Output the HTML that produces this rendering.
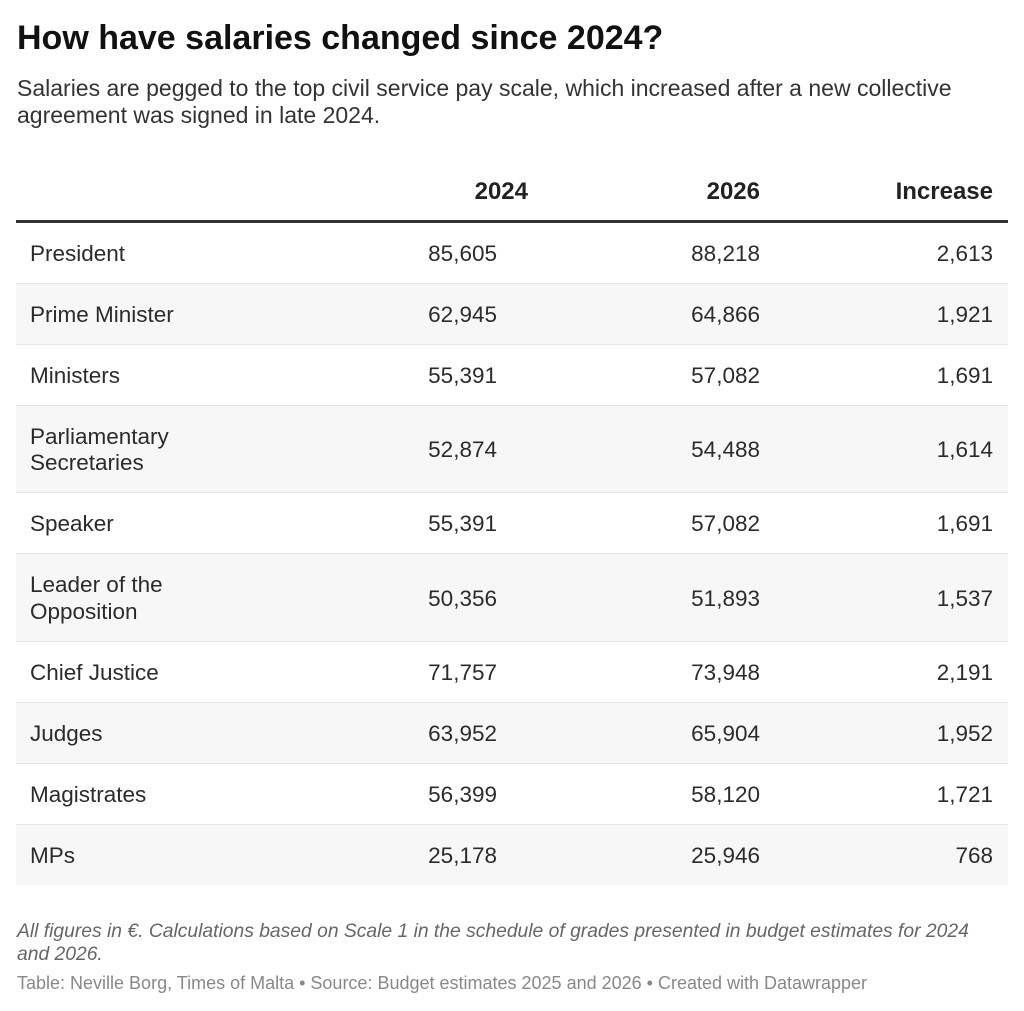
<!DOCTYPE html>
<html>
<head>
<meta charset="utf-8">
<style>
  html, body { margin:0; padding:0; }
  body { width:1024px; height:1011px; background:#fff; overflow:hidden; position:relative; font-family:"Liberation Sans", Arial, sans-serif; }
  .abs { position:absolute; white-space:nowrap; }
  .title { left:17px; top:18px; font-size:34px; line-height:40px; font-weight:bold; color:#111; }
  .sub { left:17px; top:75px; font-size:23px; line-height:27px; color:#333; }
  .hd { top:180px; font-size:24px; line-height:24px; font-weight:bold; color:#222; }
  .thick { position:absolute; left:16px; width:992px; top:220px; height:3px; background:#333; }
  .row { position:absolute; left:16px; width:992px; display:flex; align-items:center; font-size:22.5px; color:#2b2b2b; }
  .row.shade { background:#f7f7f7; }
  .row .lbl { position:absolute; left:14px; line-height:26.5px; transform:translateY(1px); }
  .row .n { position:absolute; line-height:26px; white-space:nowrap; transform:translateY(1px); }
  .row .c2 { right:511px; }
  .row .c3 { right:248px; }
  .row .c4 { right:15px; }
  .bd { position:absolute; left:16px; width:992px; height:1px; background:#e4e4e4; }
  .note { left:17px; top:920px; font-size:19.3px; line-height:23px; font-style:italic; color:#666; }
  .src { left:17px; top:973px; font-size:18px; line-height:20px; color:#888; }
</style>
</head>
<body>
  <div class="abs title">How have salaries changed since 2024?</div>
  <div class="abs sub">Salaries are pegged to the top civil service pay scale, which increased after a new collective<br>agreement was signed in late 2024.</div>

  <div class="abs hd" style="right:496px;">2024</div>
  <div class="abs hd" style="right:264px;">2026</div>
  <div class="abs hd" style="right:31px;">Increase</div>
  <div class="thick"></div>

  <div class="row" style="top:223px;height:60px;"><span class="lbl">President</span><span class="n c2">85,605</span><span class="n c3">88,218</span><span class="n c4">2,613</span></div>
  <div class="bd" style="top:283px;"></div>
  <div class="row shade" style="top:284px;height:60px;"><span class="lbl">Prime Minister</span><span class="n c2">62,945</span><span class="n c3">64,866</span><span class="n c4">1,921</span></div>
  <div class="bd" style="top:344px;"></div>
  <div class="row" style="top:345px;height:60px;"><span class="lbl">Ministers</span><span class="n c2">55,391</span><span class="n c3">57,082</span><span class="n c4">1,691</span></div>
  <div class="bd" style="top:405px;"></div>
  <div class="row shade" style="top:406px;height:86px;"><span class="lbl">Parliamentary<br>Secretaries</span><span class="n c2">52,874</span><span class="n c3">54,488</span><span class="n c4">1,614</span></div>
  <div class="bd" style="top:492px;"></div>
  <div class="row" style="top:493px;height:60px;"><span class="lbl">Speaker</span><span class="n c2">55,391</span><span class="n c3">57,082</span><span class="n c4">1,691</span></div>
  <div class="bd" style="top:553px;"></div>
  <div class="row shade" style="top:554px;height:87px;"><span class="lbl">Leader of the<br>Opposition</span><span class="n c2">50,356</span><span class="n c3">51,893</span><span class="n c4">1,537</span></div>
  <div class="bd" style="top:641px;"></div>
  <div class="row" style="top:642px;height:60px;"><span class="lbl">Chief Justice</span><span class="n c2">71,757</span><span class="n c3">73,948</span><span class="n c4">2,191</span></div>
  <div class="bd" style="top:702px;"></div>
  <div class="row shade" style="top:703px;height:60px;"><span class="lbl">Judges</span><span class="n c2">63,952</span><span class="n c3">65,904</span><span class="n c4">1,952</span></div>
  <div class="bd" style="top:763px;"></div>
  <div class="row" style="top:764px;height:60px;"><span class="lbl">Magistrates</span><span class="n c2">56,399</span><span class="n c3">58,120</span><span class="n c4">1,721</span></div>
  <div class="bd" style="top:824px;"></div>
  <div class="row shade" style="top:825px;height:60px;"><span class="lbl">MPs</span><span class="n c2">25,178</span><span class="n c3">25,946</span><span class="n c4">768</span></div>

  <div class="abs note">All figures in €. Calculations based on Scale 1 in the schedule of grades presented in budget estimates for 2024<br>and 2026.</div>
  <div class="abs src">Table: Neville Borg, Times of Malta • Source: Budget estimates 2025 and 2026 • Created with Datawrapper</div>
</body>
</html>
